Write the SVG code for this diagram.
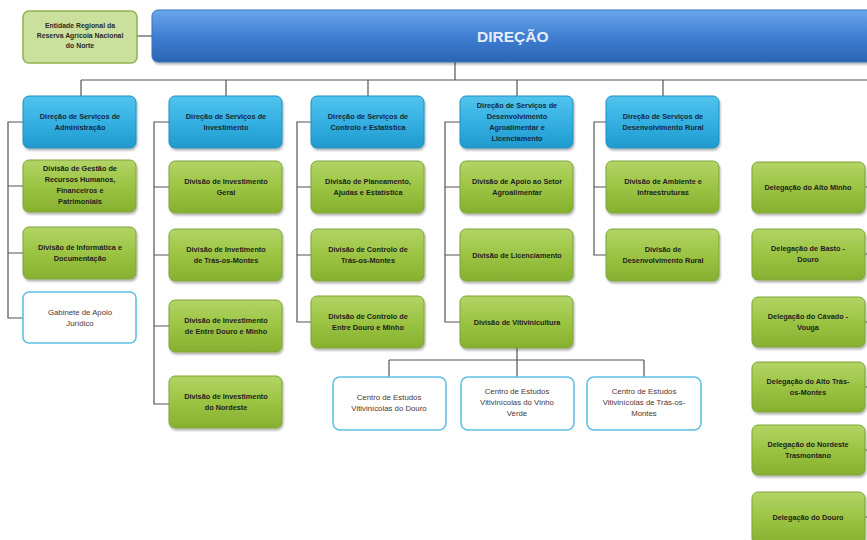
<svg xmlns="http://www.w3.org/2000/svg" width="867" height="540" viewBox="0 0 867 540">
<defs>
<linearGradient id="gGreen" x1="0" y1="0" x2="0" y2="1"><stop offset="0" stop-color="#b2d466"/><stop offset="0.5" stop-color="#9cc443"/><stop offset="1" stop-color="#86b030"/></linearGradient>
<linearGradient id="gBlue" x1="0" y1="0" x2="0" y2="1"><stop offset="0" stop-color="#52c4ee"/><stop offset="0.5" stop-color="#35b0e2"/><stop offset="1" stop-color="#1f9acd"/></linearGradient>
<linearGradient id="gDir" x1="0" y1="0" x2="0" y2="1"><stop offset="0" stop-color="#6aa6ea"/><stop offset="0.5" stop-color="#3f7fd2"/><stop offset="1" stop-color="#2c64b4"/></linearGradient>
<filter id="sh" x="-10%" y="-10%" width="120%" height="130%"><feDropShadow dx="1" dy="2" stdDeviation="1.2" flood-color="#000" flood-opacity="0.3"/></filter>
</defs>
<style>
.g{fill:url(#gGreen);stroke:#7da63a;stroke-width:1;filter:url(#sh)}
.b{fill:url(#gBlue);stroke:#1e90c2;stroke-width:1;filter:url(#sh)}
.w{fill:#fff;stroke:#5fc0e4;stroke-width:1.6}
.e{fill:#cbe09c;stroke:#8fb24c;stroke-width:1.5}
.d{fill:url(#gDir);stroke:#3a72c0;stroke-width:1;filter:url(#sh)}
text{font-family:"Liberation Sans",Arial,sans-serif;font-size:7.3px;font-weight:bold;fill:#1e1e1e;text-anchor:middle}
.tw{fill:#4d3636;font-weight:normal;font-size:7.8px}
.tb{fill:#14283c}
.te{font-size:6.9px;fill:#2a2a2a}
.dir{font-size:15.5px;fill:#e6edf7;text-anchor:start}
.c{fill:none;stroke:#555;stroke-width:1.2}
</style>

<g id="connectors">
<path class="c" d="M137 36H152"/>
<path class="c" d="M455 62V80M81 80H867M81 80V96M226 80V96M368 80V96M517 80V96M663 80V96"/>
<path class="c" d="M23 122H8V318H23M8 186H23M8 253H23"/>
<path class="c" d="M169 122H154V404H169M154 187H169M154 255H169M154 326H169"/>
<path class="c" d="M311 122H297V322H311M297 187H311M297 255H311"/>
<path class="c" d="M460 122H445V322H460M445 187H460M445 255H460"/>
<path class="c" d="M606 122H594V255H606M594 187H606"/>
<path class="c" d="M517 348V360M389 360H644M389 360V377M517 360V377M644 360V377"/>
<path class="c" d="M865 187H870M865 254H870M865 322H870M865 387H870M865 450H870M865 517H870"/>
</g>

<g id="entidade"><rect class="e" x="23" y="11" width="114" height="52" rx="6"/>
<text class="te" x="80" y="28">Entidade Regional da</text><text class="te" x="80" y="38">Reserva Agrícola Nacional</text><text class="te" x="80" y="48">do Norte</text></g>

<g id="direcao"><rect class="d" x="152" y="10" width="730" height="52" rx="6"/>
<text class="dir" x="477" y="42">DIREÇÃO</text></g>

<g id="ds-adm"><rect class="b" x="23" y="96" width="113" height="52" rx="6"/>
<text class="tb" x="80" y="119">Direção de Serviços de</text><text class="tb" x="80" y="130">Administração</text></g>
<g id="div-grh"><rect class="g" x="23" y="160" width="113" height="52" rx="6"/>
<text x="80" y="171">Divisão de Gestão de</text><text x="80" y="182">Recursos Humanos,</text><text x="80" y="193">Financeiros e</text><text x="80" y="204">Patrimoniais</text></g>
<g id="div-inf"><rect class="g" x="23" y="227" width="113" height="52" rx="6"/>
<text x="80" y="250">Divisão de Informática e</text><text x="80" y="261">Documentação</text></g>
<g id="gab"><rect class="w" x="23" y="292" width="113" height="51" rx="6"/>
<text class="tw" x="80" y="315">Gabinete de Apoio</text><text class="tw" x="80" y="326">Jurídico</text></g>

<g id="ds-inv"><rect class="b" x="169" y="96" width="113" height="52" rx="6"/>
<text class="tb" x="226" y="119">Direção de Serviços de</text><text class="tb" x="226" y="130">Investimento</text></g>
<g id="div-ig"><rect class="g" x="169" y="161" width="113" height="52" rx="6"/>
<text x="226" y="184">Divisão de Investimento</text><text x="226" y="195">Geral</text></g>
<g id="div-itm"><rect class="g" x="169" y="229" width="113" height="52" rx="6"/>
<text x="226" y="252">Divisão de Invetimento</text><text x="226" y="263">de Trás-os-Montes</text></g>
<g id="div-iedm"><rect class="g" x="169" y="300" width="113" height="52" rx="6"/>
<text x="226" y="323">Divisão de Investimento</text><text x="226" y="334">de Entre Douro e Minho</text></g>
<g id="div-in"><rect class="g" x="169" y="376" width="113" height="52" rx="6"/>
<text x="226" y="399">Divisão de Investimento</text><text x="226" y="410">do Nordeste</text></g>

<g id="ds-ce"><rect class="b" x="311" y="96" width="113" height="52" rx="6"/>
<text class="tb" x="368" y="119">Direção de Serviços de</text><text class="tb" x="368" y="130">Controlo e Estatística</text></g>
<g id="div-pae"><rect class="g" x="311" y="161" width="113" height="52" rx="6"/>
<text x="368" y="184">Divisão de Planeamento,</text><text x="368" y="195">Ajudas e Estatística</text></g>
<g id="div-ctm"><rect class="g" x="311" y="229" width="113" height="52" rx="6"/>
<text x="368" y="252">Divisão de Controlo de</text><text x="368" y="263">Trás-os-Montes</text></g>
<g id="div-cedm"><rect class="g" x="311" y="296" width="113" height="52" rx="6"/>
<text x="368" y="319">Divisão de Controlo de</text><text x="368" y="330">Entre Douro e Minho</text></g>

<g id="ds-dal"><rect class="b" x="460" y="96" width="113" height="52" rx="6"/>
<text class="tb" x="517" y="108">Direção de Serviços  de</text><text class="tb" x="517" y="119">Desenvolvimento</text><text class="tb" x="517" y="130">Agroalimentar e</text><text class="tb" x="517" y="141">Licenciamento</text></g>
<g id="div-asa"><rect class="g" x="460" y="161" width="113" height="52" rx="6"/>
<text x="517" y="184">Divisão de Apoio ao Setor</text><text x="517" y="195">Agroalimentar</text></g>
<g id="div-lic"><rect class="g" x="460" y="229" width="113" height="52" rx="6"/>
<text x="517" y="258">Divisão de Licenciamento</text></g>
<g id="div-viti"><rect class="g" x="460" y="296" width="113" height="52" rx="6"/>
<text x="517" y="325">Divisão de Vitivinicultura</text></g>

<g id="ds-dr"><rect class="b" x="606" y="96" width="113" height="52" rx="6"/>
<text class="tb" x="663" y="119">Direção de Serviços de</text><text class="tb" x="663" y="130">Desenvolvimento Rural</text></g>
<g id="div-ai"><rect class="g" x="606" y="161" width="113" height="52" rx="6"/>
<text x="663" y="184">Divisão de Ambiente e</text><text x="663" y="195">Infraestruturas</text></g>
<g id="div-dr"><rect class="g" x="606" y="229" width="113" height="52" rx="6"/>
<text x="663" y="252">Divisão de</text><text x="663" y="263">Desenvolvimento Rural</text></g>

<g id="ce-douro"><rect class="w" x="333" y="377" width="113" height="53" rx="7"/>
<text class="tw" x="389" y="400">Centro de Estudos</text><text class="tw" x="389" y="411">Vitivinícolas do Douro</text></g>
<g id="ce-vv"><rect class="w" x="461" y="377" width="113" height="53" rx="7"/>
<text class="tw" x="517" y="394">Centro de Estudos</text><text class="tw" x="517" y="405">Vitivinícolas do Vinho</text><text class="tw" x="517" y="416">Verde</text></g>
<g id="ce-tm"><rect class="w" x="587" y="377" width="114" height="53" rx="7"/>
<text class="tw" x="644" y="394">Centro de Estudos</text><text class="tw" x="644" y="405">Vitivinícolas de Trás-os-</text><text class="tw" x="644" y="416">Montes</text></g>

<g id="del-am"><rect class="g" x="752" y="162" width="113" height="51" rx="6"/>
<text x="808" y="190">Delegação do Alto Minho</text></g>
<g id="del-bd"><rect class="g" x="752" y="229" width="113" height="51" rx="6"/>
<text x="808" y="251">Delegação de Basto -</text><text x="808" y="262">Douro</text></g>
<g id="del-cv"><rect class="g" x="752" y="297" width="113" height="50" rx="6"/>
<text x="808" y="319">Delegação do Cávado -</text><text x="808" y="330">Vouga</text></g>
<g id="del-atm"><rect class="g" x="752" y="362" width="113" height="50" rx="6"/>
<text x="808" y="384">Delegação do Alto Trás-</text><text x="808" y="395">os-Montes</text></g>
<g id="del-nt"><rect class="g" x="752" y="425" width="113" height="50" rx="6"/>
<text x="808" y="447">Delegação do Nordeste</text><text x="808" y="458">Trasmontano</text></g>
<g id="del-d"><rect class="g" x="752" y="492" width="113" height="52" rx="6"/>
<text x="808" y="520">Delegação do Douro</text></g>
</svg>
